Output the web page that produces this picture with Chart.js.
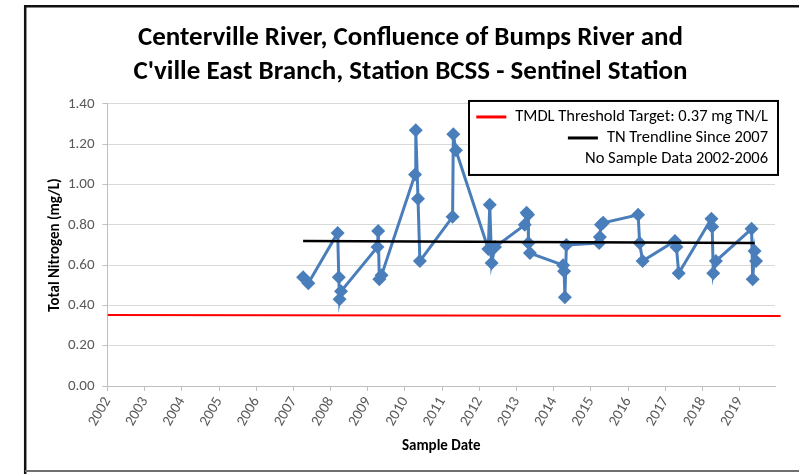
<!DOCTYPE html>
<html>
<head>
<meta charset="utf-8">
<title>Centerville River TN</title>
<script src="https://cdn.jsdelivr.net/npm/chart.js@4.4.1/dist/chart.umd.min.js"></script>
<style>
    html, body { margin: 0; padding: 0; background: #ffffff; overflow: hidden; }
    #wrap { width: 799px; height: 474px; }
</style>
</head>
<body>
<div id="wrap"><canvas id="tn_chart" width="799" height="474"></canvas></div>
<script>
// Sample dates as decimal years
const sampleYears = [
    2007.26, 2007.40,
    2008.19, 2008.22, 2008.24, 2008.28,
    2009.26, 2009.28, 2009.31, 2009.37,
    2010.27, 2010.29, 2010.35, 2010.40,
    2011.28, 2011.30, 2011.37,
    2012.24, 2012.28, 2012.33, 2012.42,
    2013.22, 2013.27, 2013.31, 2013.32, 2013.36,
    2014.25, 2014.28, 2014.30, 2014.34,
    2015.22, 2015.24, 2015.27, 2015.33,
    2016.27, 2016.31, 2016.39,
    2017.26, 2017.30, 2017.36,
    2018.24, 2018.26, 2018.29, 2018.36,
    2019.32, 2019.35, 2019.40, 2019.44
];

const tnValues = [
    0.54, 0.51,
    0.76, 0.54, 0.43, 0.47,
    0.69, 0.77, 0.53, 0.55,
    1.05, 1.27, 0.93, 0.62,
    0.84, 1.25, 1.17,
    0.68, 0.90, 0.61, 0.69,
    0.80, 0.86, 0.85, 0.71, 0.66,
    0.60, 0.57, 0.44, 0.70,
    0.71, 0.74, 0.80, 0.81,
    0.85, 0.71, 0.62,
    0.72, 0.69, 0.56,
    0.83, 0.79, 0.56, 0.62,
    0.78, 0.53, 0.67, 0.62
];

const thresholdYears = [2002, 2020.1];
const thresholdValues = [0.352, 0.347];

const trendYears = [2007.26, 2019.40];
const trendValues = [0.72, 0.71];

const yearTicks = [
    2002, 2003, 2004, 2005, 2006, 2007, 2008, 2009, 2010,
    2011, 2012, 2013, 2014, 2015, 2016, 2017, 2018, 2019
];

const chartTitle = [
    'Centerville River, Confluence of Bumps River and',
    "C'ville East Branch, Station BCSS - Sentinel Station"
];

const fontFamily = "Carlito, Calibri, 'Liberation Sans Narrow', 'Open Sans', sans-serif";

function toPoints(xs, ys) {
    return xs.map((x, i) => ({ x: x, y: ys[i] }));
}

// Outer frame of the picture (left, top and bottom edges)
const framePlugin = {
    id: 'frame',
    beforeDraw(chart) {
        const ctx = chart.ctx;
        ctx.save();
        ctx.fillStyle = '#ffffff';
        ctx.fillRect(0, 0, chart.width, chart.height);
        ctx.strokeStyle = '#111111';
        ctx.lineWidth = 2.5;
        ctx.beginPath();
        ctx.moveTo(25.2, chart.height);
        ctx.lineTo(25.2, 6.2);
        ctx.lineTo(chart.width, 6.2);
        ctx.stroke();
        ctx.strokeStyle = '#6f6f6f';
        ctx.lineWidth = 2;
        ctx.beginPath();
        ctx.moveTo(25, 471);
        ctx.lineTo(chart.width, 471);
        ctx.stroke();
        ctx.restore();
    }
};

// Boxed legend inside the plot area, right aligned entries
const legendBoxPlugin = {
    id: 'legendBox',
    afterDraw(chart) {
        const ctx = chart.ctx;
        const area = chart.chartArea;
        const items = chart.data.datasets.filter(d => d.inLegend);
        const right = area.right + 3;
        const left = right - 309;
        const top = area.top - 3;
        const rowH = 21;
        const height = 74;

        ctx.save();
        ctx.fillStyle = '#ffffff';
        ctx.fillRect(left, top, right - left, height);
        ctx.strokeStyle = '#000000';
        ctx.lineWidth = 2;
        ctx.strokeRect(left, top, right - left, height);

        ctx.font = '16.5px ' + fontFamily;
        ctx.fillStyle = '#000000';
        ctx.textAlign = 'right';
        ctx.textBaseline = 'middle';
        items.forEach((d, i) => {
            const y = top + 16 + i * rowH;
            const textRight = right - 10;
            ctx.fillText(d.label, textRight, y);
            if (d.borderWidth > 0) {
                const w = ctx.measureText(d.label).width;
                const mx2 = textRight - w - 9;
                ctx.strokeStyle = d.borderColor;
                ctx.lineWidth = 3;
                ctx.beginPath();
                ctx.moveTo(mx2 - 30, y);
                ctx.lineTo(mx2, y);
                ctx.stroke();
            }
        });
        ctx.restore();
    }
};

function initializeChart() {
    const ctx = document.getElementById('tn_chart').getContext('2d');
    return new Chart(ctx, {
        type: 'line',
        data: {
            datasets: [
                {
                    label: 'Total Nitrogen',
                    data: toPoints(sampleYears, tnValues),
                    borderColor: '#4a7ebb',
                    backgroundColor: '#4a7ebb',
                    borderWidth: 3,
                    pointStyle: 'rectRot',
                    pointRadius: 7,
                    pointBorderWidth: 0,
                    inLegend: false,
                    order: 1
                },
                {
                    label: 'TMDL Threshold Target: 0.37 mg TN/L',
                    data: toPoints(thresholdYears, thresholdValues),
                    borderColor: '#ff0000',
                    borderWidth: 2,
                    pointRadius: 0,
                    clip: { left: 0, right: 6, top: 0, bottom: 0 },
                    inLegend: true,
                    order: 3
                },
                {
                    label: 'TN Trendline Since 2007',
                    data: toPoints(trendYears, trendValues),
                    borderColor: '#000000',
                    borderWidth: 2.5,
                    pointRadius: 0,
                    inLegend: true,
                    order: 0
                },
                {
                    label: 'No Sample Data 2002-2006',
                    data: [],
                    borderWidth: 0,
                    pointRadius: 0,
                    inLegend: true
                }
            ]
        },
        options: {
            responsive: false,
            animation: false,
            devicePixelRatio: 1,
            layout: {
                padding: { left: 46, right: 24, top: 0, bottom: 19 }
            },
            plugins: {
                legend: { display: false },
                tooltip: { enabled: false },
                title: {
                    display: true,
                    text: chartTitle,
                    color: '#000000',
                    font: { family: fontFamily, size: 27, weight: 'bold', lineHeight: 1.24 },
                    padding: { top: 22, bottom: 15 }
                }
            },
            scales: {
                x: {
                    type: 'linear',
                    min: 2002,
                    max: 2019.95,
                    afterBuildTicks: scale => {
                        scale.ticks = yearTicks.map(v => ({ value: v }));
                    },
                    afterFit: scale => { scale.height = 69; },
                    ticks: {
                        autoSkip: false,
                        minRotation: 60,
                        maxRotation: 60,
                        color: '#595959',
                        font: { family: fontFamily, size: 15 },
                        callback: value => String(value)
                    },
                    grid: {
                        drawOnChartArea: false,
                        drawTicks: true,
                        tickLength: 5,
                        color: '#bfbfbf'
                    },
                    border: { color: '#bfbfbf', width: 1 },
                    title: {
                        display: true,
                        text: 'Sample Date',
                        color: '#000000',
                        font: { family: fontFamily, size: 15, weight: 'bold' },
                        padding: { top: 2, bottom: 0 }
                    }
                },
                y: {
                    min: 0,
                    max: 1.4,
                    afterFit: scale => { scale.width = 61.5; },
                    ticks: {
                        stepSize: 0.2,
                        color: '#595959',
                        font: { family: fontFamily, size: 15 },
                        padding: 8,
                        callback: value => value.toFixed(2)
                    },
                    grid: {
                        color: '#d9d9d9',
                        tickLength: 5,
                        tickColor: '#bfbfbf'
                    },
                    border: { color: '#bfbfbf', width: 1 },
                    title: {
                        display: true,
                        text: 'Total Nitrogen (mg/L)',
                        color: '#000000',
                        font: { family: fontFamily, size: 15, weight: 'bold' },
                        padding: { top: 0, bottom: 0 }
                    }
                }
            }
        },
        plugins: [framePlugin, legendBoxPlugin]
    });
}

document.addEventListener('DOMContentLoaded', () => {
    initializeChart();
});
</script>
</body>
</html>
